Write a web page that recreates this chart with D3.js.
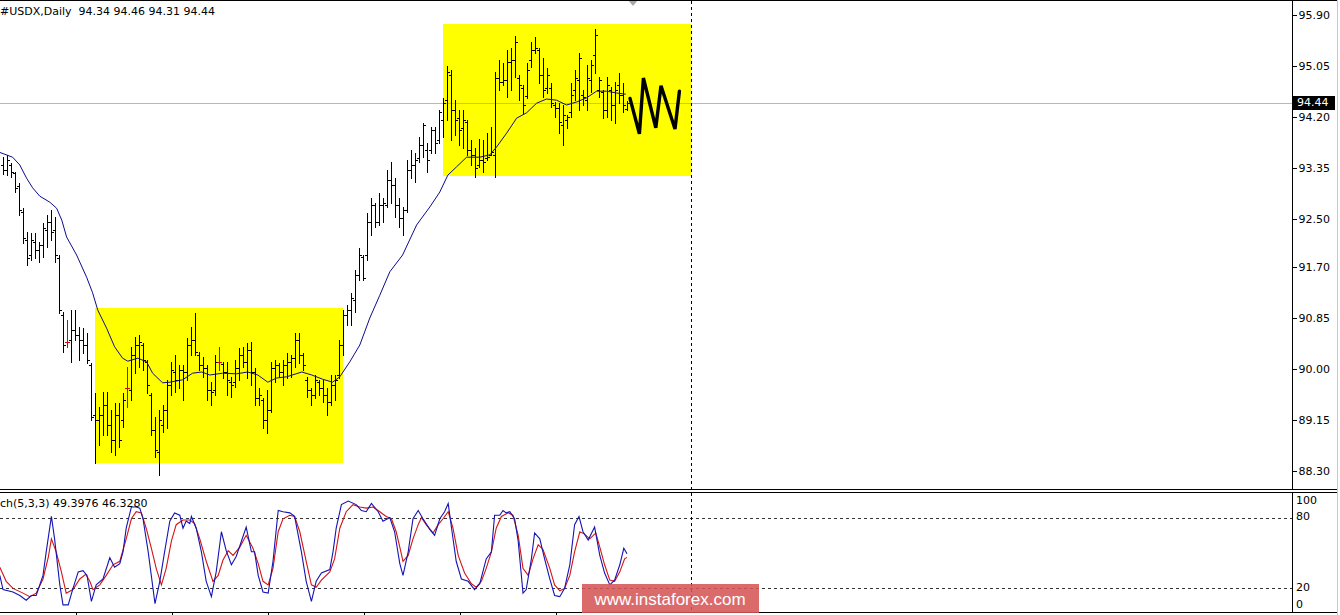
<!DOCTYPE html>
<html><head><meta charset="utf-8">
<script src="https://cdn.jsdelivr.net/npm/d3@7"></script>
<style>
html,body{margin:0;padding:0;background:#fff;overflow:hidden}
svg{display:block}
text{font-family:"DejaVu Sans",Verdana,sans-serif;font-size:11px;fill:#000}
</style>
</head><body>
<svg id="chart" width="1340" height="615"></svg>
<script>
// ---------- DATA ----------
const symbolTitle = "#USDX,Daily  94.34 94.46 94.31 94.44";
const stochTitle = "ch(5,3,3) 49.3976 46.3280";

const barOpen = [93.40,93.32,93.40,93.27,93.05,92.62,92.15,91.90,92.12,91.98,
92.07,92.32,92.45,92.32,91.85,90.90,90.45,90.48,90.65,90.57,
90.48,90.40,90.07,89.23,89.15,89.23,89.40,89.07,88.82,89.23,
89.15,89.68,89.65,90.23,90.40,90.40,90.12,89.57,88.98,88.62,
89.07,89.32,89.73,89.95,89.82,89.98,89.95,90.40,90.48,90.23,
90.07,90.02,89.65,89.65,90.12,90.08,89.95,89.78,89.78,90.02,
90.23,90.12,90.32,89.95,89.52,89.48,89.15,89.32,90.02,90.07,
89.95,90.07,90.12,90.18,90.48,90.23,89.82,89.65,89.57,89.78,
89.68,89.57,89.45,89.73,89.90,90.40,90.90,90.98,91.15,91.57,
91.87,91.90,92.45,92.73,92.45,92.73,92.73,93.15,93.07,92.73,
92.52,92.65,93.32,93.40,93.52,93.73,93.65,93.65,93.98,93.82,
94.15,94.48,94.90,94.32,94.18,94.02,94.12,93.65,93.57,93.40,
93.48,93.52,93.57,93.57,94.85,94.78,94.82,95.12,95.15,94.85,
94.68,94.55,95.15,95.32,95.32,94.90,94.68,94.68,94.40,94.35,
94.07,94.15,94.28,94.65,94.82,94.57,94.48,94.82,95.23,94.65,
94.62,94.32,94.65,94.40,94.73,94.57,94.34];

const barHigh = [93.53,93.57,93.43,93.28,93.10,92.68,92.28,92.27,92.27,92.12,
92.43,92.57,92.65,92.53,91.90,90.95,90.82,90.98,90.98,90.70,
90.68,90.60,90.10,89.60,89.37,89.62,89.62,89.32,89.43,89.43,
89.60,90.03,90.37,90.53,90.57,90.43,90.15,89.60,89.20,89.32,
89.40,89.82,90.12,90.23,90.07,90.07,90.52,90.70,90.93,90.28,
90.20,90.07,89.78,90.23,90.37,90.12,90.12,89.87,90.15,90.35,
90.37,90.43,90.45,90.02,89.68,89.52,89.65,90.12,90.15,90.10,
90.15,90.27,90.23,90.60,90.60,90.27,89.87,89.68,89.90,89.82,
89.82,89.68,89.90,89.90,90.48,90.98,91.07,91.27,91.65,92.02,
91.90,92.60,92.85,92.77,92.93,92.85,93.32,93.45,93.18,92.85,
92.70,93.48,93.65,93.60,93.87,94.10,93.77,94.03,94.03,94.32,
94.52,95.05,94.98,94.48,94.32,94.32,94.15,93.82,93.68,93.83,
93.82,93.93,94.03,94.95,95.15,95.10,95.32,95.35,95.55,94.90,
94.73,95.10,95.45,95.53,95.35,95.18,95.02,94.77,94.45,94.43,
94.40,94.23,94.77,94.98,95.27,94.65,95.07,95.15,95.67,94.87,
94.65,94.87,94.70,94.78,94.93,94.77,94.46];

const barLow = [93.25,93.23,93.20,92.95,92.57,92.10,91.73,91.82,91.85,91.78,
91.87,92.03,92.15,91.78,90.93,90.28,90.37,90.12,90.48,90.15,
90.27,90.10,89.15,88.43,88.73,88.90,88.90,88.62,88.57,88.70,
89.03,89.37,89.48,89.93,90.03,89.98,89.60,88.90,88.53,88.23,
88.95,89.02,89.57,89.62,89.68,89.48,89.82,90.23,90.23,89.98,
89.87,89.48,89.40,89.57,89.98,89.85,89.57,89.53,89.70,89.82,
90.03,89.85,89.73,89.40,89.40,89.02,88.93,89.28,89.78,89.87,
89.73,89.85,89.87,90.03,90.10,89.98,89.53,89.40,89.52,89.57,
89.45,89.23,89.40,89.48,89.85,90.23,90.73,90.73,90.95,91.48,
91.48,91.82,92.23,92.37,92.40,92.45,92.70,92.77,92.53,92.37,
92.23,92.62,93.18,93.12,93.45,93.53,93.28,93.60,93.60,93.77,
93.87,94.15,93.82,93.90,93.73,93.68,93.57,93.40,93.20,93.37,
93.28,93.48,93.57,93.20,94.65,94.73,94.53,94.65,94.87,94.48,
94.27,94.52,95.03,95.27,94.77,94.53,94.60,94.37,94.20,93.93,
93.73,94.02,94.20,94.48,94.32,94.40,94.32,94.62,94.93,94.53,
94.18,94.20,94.15,94.10,94.43,94.28,94.31];

const barClose = [93.32,93.48,93.28,93.02,92.65,92.18,91.85,92.15,91.98,92.07,
92.35,92.45,92.28,91.90,90.98,90.40,90.45,90.65,90.57,90.48,
90.40,90.15,89.20,89.15,89.23,89.40,89.07,88.82,89.23,88.82,
89.48,89.68,90.23,90.40,90.45,90.15,89.73,88.98,88.65,89.15,
89.32,89.73,89.98,89.82,89.98,89.95,90.40,90.48,90.28,90.07,
90.02,89.65,89.62,90.12,90.12,89.95,89.82,89.73,90.02,90.23,
90.12,90.32,89.95,89.52,89.57,89.15,89.32,90.02,90.07,89.95,
90.07,90.12,90.18,90.48,90.23,90.07,89.65,89.57,89.82,89.68,
89.57,89.45,89.73,89.82,90.40,90.90,90.98,91.18,91.57,91.90,
91.52,92.45,92.73,92.45,92.73,92.77,93.15,93.07,92.73,92.52,
92.65,93.32,93.40,93.48,93.73,94.07,93.48,93.98,93.77,94.28,
94.43,94.95,94.32,94.15,93.98,94.15,93.65,93.57,93.35,93.48,
93.45,93.53,93.62,94.85,94.78,94.82,95.12,95.15,95.45,94.73,
94.40,94.98,95.32,95.35,94.90,94.65,94.90,94.43,94.35,94.12,
94.23,94.20,94.57,94.85,95.18,94.53,94.85,95.07,95.57,94.82,
94.32,94.73,94.40,94.65,94.57,94.40,94.44];

// moving average line: [bar index, price]
const maPoints = [[-0.8,93.61],[2.4,93.53],[4.2,93.40],[5.9,93.18],[7.4,93.02],[9.2,92.88],[11.7,92.78],[13.4,92.68],[14.7,92.48],[15.9,92.20],
[18.4,91.90],[20.9,91.53],[22.4,91.27],[23.7,90.98],[25.9,90.68],[27.9,90.37],[29.9,90.18],[31.2,90.13],[33.7,90.18],[35.9,90.12],
[37.4,89.93],[39.9,89.77],[41.7,89.78],[44.9,89.82],[47.4,89.93],[49.7,89.95],[51.7,89.90],[54.9,89.93],[58.4,89.92],[61.2,89.95],
[63.7,89.90],[66.2,89.78],[68.4,89.85],[70.9,89.87],[74.7,89.95],[77.2,89.90],[79.9,89.83],[82.4,89.78],[84.2,89.87],[86.7,90.12],
[89.2,90.40],[91.7,90.85],[94.2,91.23],[96.7,91.62],[99.9,91.90],[103.4,92.40],[106.7,92.70],[109.2,92.95],[111.2,93.23],[113.4,93.37],
[115.9,93.53],[119.2,93.53],[121.7,93.57],[123.4,93.70],[125.9,93.93],[128.4,94.18],[130.9,94.27],[133.4,94.43],[135.9,94.50],[138.4,94.48],
[140.9,94.40],[143.4,94.45],[145.9,94.52],[148.4,94.63],[150.9,94.63],[153.4,94.60],[155.7,94.58]];

// Stochastic %K (blue) and %D (red): [bar index, value]
const stochK = [[-0.8,31],[0,19],[2.5,17],[4.2,14],[5.8,10],[7.1,14],[8.3,14],[10,31],[10.8,51],[12.1,81],
[12.9,62],[14.2,23],[15,6],[16.3,6],[17.5,20],[18.8,34],[20,35],[21,31],[22.1,9],[23.3,23],
[25,28],[26.7,46],[27.9,38],[29.2,41],[30,51],[30.8,71],[32.1,89],[33.3,89],[34.2,88],[35,79],
[36.3,51],[38,7],[39.2,26],[40.4,51],[41.7,77],[42.9,84],[44.2,82],[45,71],[45.8,77],[46.7,75],
[47.1,81],[48.3,71],[49.6,51],[50.8,26],[52.1,13],[53.3,34],[54.6,68],[55.8,52],[57.1,40],[58.3,47],
[59.6,60],[60.8,72],[62.1,51],[62.9,51],[63.8,31],[65,17],[66.3,16],[67.5,43],[68.8,86],[70,85],
[71.7,84],[72.9,81],[74.6,51],[75.8,26],[77.1,9],[78.3,26],[79.6,33],[81.7,36],[82.5,51],[83.3,71],
[84.6,91],[86.3,94],[88.3,91],[89.6,86],[90.8,85],[92.1,92],[93.8,85],[95,77],[96.7,80],[97.9,68],
[99.2,41],[100,31],[101.3,51],[102.5,79],[103.8,86],[105,79],[106.7,70],[107.9,65],[109.2,79],[110.4,85],
[111.3,92],[112.1,72],[113.3,43],[114.6,28],[116.3,26],[117.9,19],[119.2,24],[120.8,45],[122.1,51],[122.9,82],
[124.2,82],[125,86],[125.8,84],[126.7,85],[127.9,79],[128.8,60],[130,16],[130.8,19],[132.1,45],[132.9,67],
[134.2,62],[135.4,45],[136.7,28],[137.9,14],[139.2,13],[140.4,20],[141.7,40],[142.9,74],[144,81],[145,68],
[146.3,61],[147.9,72],[149.2,48],[150.4,33],[151.7,23],[152.9,27],[154.2,40],[155.2,54],[156,49.4]];

const stochD = [[-0.8,38],[0.8,26],[2.5,20],[5,16],[6.7,13],[8.3,16],[10,28],[11.3,46],[12.1,62],[13.3,51],
[14.6,34],[15.8,16],[17.5,19],[19.2,28],[20.7,32],[21.7,26],[22.5,19],[24.2,23],[25.8,31],[27.5,40],
[29.2,43],[30.8,62],[32.1,79],[33.3,85],[34.6,84],[35.8,71],[37.1,54],[38.3,37],[39.6,23],[40.8,37],
[42.1,60],[43.3,74],[45,78],[46.7,78],[47.9,75],[49.2,62],[50.8,43],[52.5,26],[53.8,31],[55,44],
[56.3,52],[57.5,48],[59.2,55],[60.8,65],[62.5,54],[63.8,41],[65,26],[66.3,23],[67.5,37],[68.8,68],
[70,79],[71.7,82],[72.9,81],[74.2,68],[75.8,43],[77.1,23],[78.3,21],[79.6,27],[81.7,34],[82.9,45],
[84.2,71],[85.8,85],[87.5,91],[89.2,89],[90.8,88],[92.5,89],[94.2,85],[95.8,81],[97.1,79],[98.3,68],
[99.2,55],[100,43],[101.3,48],[102.5,62],[103.8,74],[104.6,80],[105.8,74],[107.5,67],[108.8,74],[110,79],
[111.3,85],[112.5,71],[113.8,48],[115.4,33],[117.1,24],[118.3,21],[119.6,26],[120.8,37],[122.1,51],[123.3,71],
[124.6,81],[126.3,84],[127.5,82],[128.8,65],[130,37],[131.3,31],[132.5,45],[133.8,57],[135,53],[136.7,37],
[137.9,23],[139.2,18],[140.4,20],[141.7,31],[142.9,51],[144.2,68],[145.4,66],[146.7,62],[148.2,67],[149.2,55],
[150.4,40],[151.7,27],[152.9,26],[154.2,34],[155.4,45],[156,46.3]];

// hand-drawn "W" forecast: [bar index, price]
const forecastW = [[156.75,94.51],[159.1,93.92],[160.1,94.85],[163.2,94.02],[164.5,94.72],[168.0,94.00],[169.1,94.63]];

// highlighted ranges (yellow boxes)
const boxStartIdx = [23, 110];
const boxEndIdx   = [85, 172];
const boxLow      = [88.43, 93.22];
const boxHigh     = [91.01, 95.75];

const priceTicks = [95.90,95.05,94.20,93.35,92.50,91.70,90.85,90.00,89.15,88.30];
const lastPrice = 94.44;
const stochLevels = [80, 20];
const stochTicks = [100, 80, 20, 0];
const timeTickIdx = [18, 42, 66, 90, 114, 138];
const vlineIdx = 172;
const shiftMarkIdx = 157.5;
const watermark = "www.instaforex.com";

// ---------- LAYOUT ----------
const W = 1340, H = 615;
const axisX = 1292;
const mainTop = 0, mainBottom = 490;
const subTop = 492, subBottom = 612;

const x = d3.scaleLinear().domain([0, 156]).range([3, 627]);
const y = d3.scaleLinear().domain([88.30, 95.90]).range([471, 15]);
const ys = d3.scaleLinear().domain([0, 100]).range([612, 494]);

const svg = d3.select("#chart");

const defs = svg.append("defs");
defs.append("clipPath").attr("id","clipMain").append("rect")
  .attr("x",0).attr("y",mainTop+1).attr("width",axisX).attr("height",mainBottom-mainTop-1);
defs.append("clipPath").attr("id","clipSub").append("rect")
  .attr("x",0).attr("y",subTop+1).attr("width",axisX).attr("height",subBottom-subTop-1);

const gMain = svg.append("g").attr("clip-path","url(#clipMain)");
const gSub = svg.append("g").attr("clip-path","url(#clipSub)");

// yellow boxes
gMain.selectAll("rect.box").data(boxStartIdx).join("rect")
  .attr("class","box")
  .attr("x", (d,i) => Math.round(x(d)))
  .attr("y", (d,i) => Math.round(y(boxHigh[i])))
  .attr("width", (d,i) => Math.round(x(boxEndIdx[i])) - Math.round(x(d)))
  .attr("height", (d,i) => Math.round(y(boxLow[i])) - Math.round(y(boxHigh[i])))
  .attr("fill", "#ffff00");

// last price line
gMain.append("line")
  .attr("x1",0).attr("x2",axisX)
  .attr("y1",Math.round(y(lastPrice))+0.5).attr("y2",Math.round(y(lastPrice))+0.5)
  .attr("stroke","#b8b8b8").attr("stroke-width",1).attr("shape-rendering","crispEdges");

// OHLC bars
const bars = barOpen.map((o,i)=>({i, o, h:barHigh[i], l:barLow[i], c:barClose[i]}));
gMain.selectAll("path.bar").data(bars).join("path")
  .attr("class","bar")
  .attr("d", d => {
    const cx = Math.round(x(d.i));
    const yh = Math.round(y(d.h)), yl = Math.round(y(d.l));
    const yo = Math.round(y(d.o)) + 0.5, yc = Math.round(y(d.c)) + 0.5;
    return `M${cx+0.5},${yh}V${yl+1}M${cx-2},${yo}H${cx}M${cx+1},${yc}H${cx+3}`;
  })
  .attr("fill","none")
  .attr("stroke", d => Math.abs(d.o - d.c) < 0.005 ? "#e00000" : "#000")
  .attr("stroke-width",1)
  .attr("shape-rendering","crispEdges");

// moving average
gMain.append("path")
  .datum(maPoints)
  .attr("d", d3.line().x(d=>x(d[0])).y(d=>y(d[1])))
  .attr("fill","none").attr("stroke","#0c0c8c").attr("stroke-width",1);

// forecast W
gMain.append("path")
  .datum(forecastW)
  .attr("d", d3.line().x(d=>x(d[0])).y(d=>y(d[1])))
  .attr("fill","none").attr("stroke","#000").attr("stroke-width",3.4)
  .attr("stroke-linejoin","miter").attr("stroke-linecap","round");

// shift marker (gray triangle at top)
const smx = x(shiftMarkIdx);
svg.append("path")
  .attr("d", `M${smx-5},0L${smx+5},0L${smx},6Z`)
  .attr("fill","#a8a8a8");

// stochastic levels
gSub.selectAll("line.lvl").data(stochLevels).join("line")
  .attr("class","lvl")
  .attr("x1",0).attr("x2",axisX)
  .attr("y1",d=>Math.round(ys(d))+0.5).attr("y2",d=>Math.round(ys(d))+0.5)
  .attr("stroke","#333").attr("stroke-dasharray","3,3").attr("stroke-width",1)
  .attr("shape-rendering","crispEdges");

// stochastic lines
const sLine = d3.line().x(d=>x(d[0])).y(d=>ys(d[1]));
gSub.append("path").datum(stochD).attr("d", sLine)
  .attr("fill","none").attr("stroke","#d41414").attr("stroke-width",1.1);
gSub.append("path").datum(stochK).attr("d", sLine)
  .attr("fill","none").attr("stroke","#1414b4").attr("stroke-width",1.1);

// vertical dashed line
const vx = Math.round(x(vlineIdx)) + 0.5;
svg.append("line")
  .attr("x1",vx).attr("x2",vx).attr("y1",1).attr("y2",subBottom)
  .attr("stroke","#000").attr("stroke-dasharray","3,3").attr("stroke-width",1)
  .attr("shape-rendering","crispEdges");

// frame lines
const frame = svg.append("g").attr("stroke","#000").attr("stroke-width",1).attr("shape-rendering","crispEdges");
frame.append("line").attr("x1",0).attr("x2",1337).attr("y1",0.5).attr("y2",0.5);
frame.append("line").attr("x1",0).attr("x2",1337).attr("y1",mainBottom-0.5).attr("y2",mainBottom-0.5);
frame.append("line").attr("x1",0).attr("x2",1337).attr("y1",subTop+0.5).attr("y2",subTop+0.5);
frame.append("line").attr("x1",0).attr("x2",1337).attr("y1",subBottom+0.5).attr("y2",subBottom+0.5);
frame.append("line").attr("x1",axisX+0.5).attr("x2",axisX+0.5).attr("y1",0).attr("y2",mainBottom);
frame.append("line").attr("x1",axisX+0.5).attr("x2",axisX+0.5).attr("y1",subTop).attr("y2",subBottom+1);
svg.append("line").attr("x1",1337.5).attr("x2",1337.5).attr("y1",0).attr("y2",H)
  .attr("stroke","#c8c8c8").attr("shape-rendering","crispEdges");

// right price axis
const yAxis = d3.axisRight(y).tickValues(priceTicks).tickFormat(d3.format(".2f")).tickSize(4).tickPadding(2);
const gy = svg.append("g").attr("transform",`translate(${axisX+0.5},0)`).call(yAxis);
gy.select(".domain").remove();
gy.selectAll(".tick line").attr("stroke","#000").attr("shape-rendering","crispEdges");
gy.selectAll("text").attr("font-family","DejaVu Sans").attr("font-size",11).attr("fill","#000");

// current price label
const ly = y(lastPrice);
svg.append("rect").attr("x",axisX+1).attr("y",Math.round(ly)-7).attr("width",42).attr("height",14).attr("fill","#000");
svg.append("text").attr("x",axisX+5).attr("y",ly).attr("dy","0.35em")
  .style("fill","#fff").text(d3.format(".2f")(lastPrice));

// stochastic axis labels
svg.selectAll("text.st").data(stochTicks).join("text")
  .attr("class","st")
  .attr("x",axisX+4)
  .attr("y",d => ys(d) + (d===100 ? 6 : d===0 ? -8 : -1))
  .attr("dy","0.35em")
  .text(d=>d);

// time axis ticks (labels are below the visible area)
const xAxis = d3.axisBottom(x).tickValues(timeTickIdx).tickSize(4).tickFormat("");
const gx = svg.append("g").attr("transform",`translate(0.5,${subBottom+0.5})`).call(xAxis);
gx.select(".domain").remove();
gx.selectAll(".tick line").attr("stroke","#000").attr("shape-rendering","crispEdges");

// titles
svg.append("text").attr("x",0).attr("y",15).style("white-space","pre").text(symbolTitle);
svg.append("text").attr("x",0).attr("y",507).style("white-space","pre").text(stochTitle);

// watermark
svg.append("rect").attr("x",582).attr("y",584).attr("width",177).attr("height",29)
  .attr("fill","rgb(214,86,86)").attr("opacity",0.88);
svg.append("text").attr("x",670).attr("y",599).attr("dy","0.35em").attr("text-anchor","middle")
  .style("font-family","'Liberation Sans',Arial,sans-serif").style("font-size","17px").style("fill","#fff")
  .text(watermark);
</script>
</body></html>
